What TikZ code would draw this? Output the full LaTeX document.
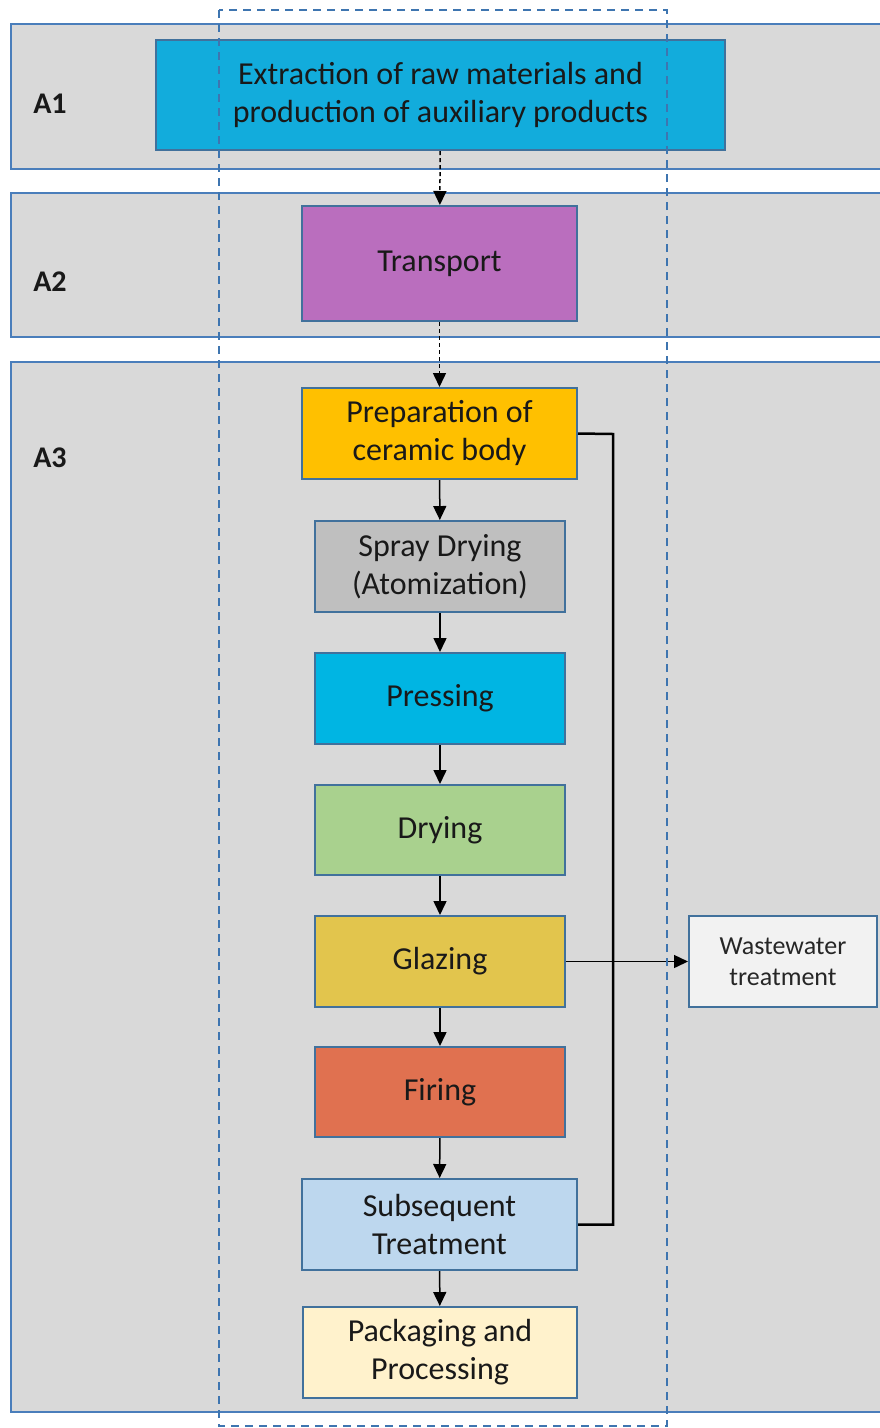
\documentclass[tikz,border=0pt]{standalone}
\usepackage{fontspec}
\setmainfont{Carlito}
\usetikzlibrary{arrows.meta}

\definecolor{bandfill}{HTML}{D9D9D9}
\definecolor{bandline}{HTML}{4A7EBB}
\definecolor{boxline}{HTML}{41719C}
\definecolor{zonedash}{HTML}{3E75B0}
\definecolor{cextract}{HTML}{12ACDC}
\definecolor{ctransport}{HTML}{BA6EBE}
\definecolor{cprep}{HTML}{FFC000}
\definecolor{cspray}{HTML}{BFBFBF}
\definecolor{cpress}{HTML}{00B5E3}
\definecolor{cdry}{HTML}{A9D18E}
\definecolor{cglaze}{HTML}{E2C54D}
\definecolor{cfire}{HTML}{E07150}
\definecolor{csubseq}{HTML}{BDD7EE}
\definecolor{cpack}{HTML}{FFF2CC}
\definecolor{cwaste}{HTML}{F2F2F2}

\tikzset{
  stepbox/.style={draw=boxline, line width=2pt, inner sep=0pt, align=center,
    font=\fontsize{32}{38}\selectfont, text=black!90},
  smallbox/.style={stepbox, font=\fontsize{26}{31}\selectfont, text=black!85},
  bandlabel/.style={font=\fontsize{30}{34}\selectfont\bfseries, text=black!90},
  flow/.style={line width=1.5pt, -{Triangle[length=14pt,width=13pt]}},
  dflow/.style={flow, dash pattern=on 4pt off 3pt},
}

\begin{document}
\begin{tikzpicture}[x=1pt, y=-1pt]
  \useasboundingbox (0,0) rectangle (880,1428);

  % life cycle stages
  \foreach \top/\bot in {24/169, 193/337, 362/1412} {
    \fill[bandfill] (11,\top) rectangle (880,\bot);
    \draw[bandline, line width=2.5pt] (880,\top) -- (11,\top) -- (11,\bot) -- (880,\bot);
  }
  \node[bandlabel] (a1) at (50,104) {A1};
  \node[bandlabel] (a2) at (50,282) {A2};
  \node[bandlabel] (a3) at (50,458) {A3};

  \node[stepbox, fill=cextract, minimum width=569pt, minimum height=110pt] (extract) at (440.5,95)
    {Extraction of raw materials and\\production of auxiliary products};
  \node[stepbox, fill=ctransport, minimum width=275pt, minimum height=115pt] (transport) at (439.5,263.5) {Transport};
  \node[stepbox, fill=cprep, minimum width=275pt, minimum height=91pt] (prep) at (439.5,433.5) {Preparation of\\ceramic body};
  \node[stepbox, fill=cspray, minimum width=250pt, minimum height=91pt] (spray) at (440,566.5) {Spray Drying\\(Atomization)};
  \node[stepbox, fill=cpress, minimum width=250pt, minimum height=91pt] (press) at (440,698.5) {Pressing};
  \node[stepbox, fill=cdry, minimum width=250pt, minimum height=90pt] (dry) at (440,830) {Drying};
  \node[stepbox, fill=cglaze, minimum width=250pt, minimum height=91pt] (glaze) at (440,961.5) {Glazing};
  \node[stepbox, fill=cfire, minimum width=250pt, minimum height=90pt] (fire) at (440,1092) {Firing};
  \node[stepbox, fill=csubseq, minimum width=275pt, minimum height=91pt] (subseq) at (439.5,1224.5) {Subsequent\\Treatment};
  \node[stepbox, fill=cpack, minimum width=274pt, minimum height=91pt] (pack) at (440,1352.5) {Packaging and\\Processing};
  \node[smallbox, fill=cwaste, minimum width=188pt, minimum height=91pt] (waste) at (783,961.5) {Wastewater\\treatment};

  % connectors
  \draw[dflow] (extract) -- (transport);
  \draw[dflow] (transport) -- (prep);
  \draw[flow] (prep) -- (spray);
  \draw[flow] (spray) -- (press);
  \draw[flow] (press) -- (dry);
  \draw[flow] (dry) -- (glaze);
  \draw[flow] (glaze) -- (fire);
  \draw[flow] (fire) -- (subseq);
  \draw[flow] (subseq) -- (pack);
  \coordinate (loop) at (613,434);
  \draw[line width=2.5pt] (prep.east) -- (loop) |- (subseq.east);
  \draw[flow] (glaze.east) -- (waste.west);

  % system boundary
  \draw[zonedash, line width=2pt, dash pattern=on 8pt off 6pt] (219,10) rectangle (667,1426);
\end{tikzpicture}
\end{document}
